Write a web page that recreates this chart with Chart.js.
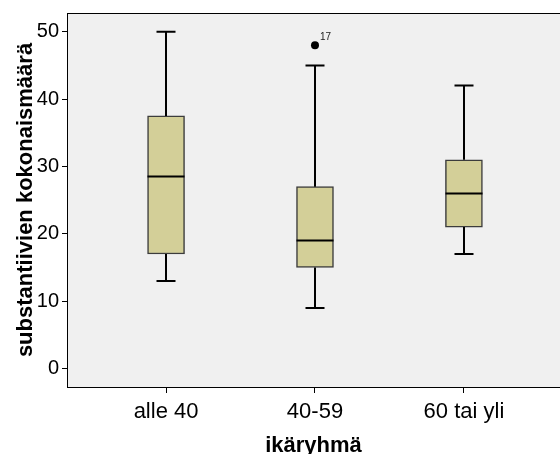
<!DOCTYPE html>
<html><head><meta charset="utf-8">
<script src="https://cdn.jsdelivr.net/npm/chart.js@4"></script>
<style>html,body{margin:0;padding:0;background:#fff}#wrap{width:560px;height:454px}</style>
</head><body><div id="wrap"><canvas id="c" width="560" height="454"></canvas></div>
<script>
const categories = ['alle 40', '40-59', '60 tai yli'];
const whiskerLow = [13, 9, 17];
const q1 = [17, 15, 21];
const median = [28.5, 19, 26];
const q3 = [37.5, 27, 31];
const whiskerHigh = [50, 45, 42];
const outlierGroup = [1];      // index into categories
const outlierValues = [48];
const outlierLabels = ['17'];
const yTicks = [0, 10, 20, 30, 40, 50];

const FONT = 'Arial, "Liberation Sans", sans-serif';

const boxPlugin = {
  id: 'boxParts',
  beforeDraw(chart) {
    const {ctx, chartArea: a} = chart;
    ctx.save();
    ctx.fillStyle = '#f0f0f0';
    ctx.fillRect(a.left, a.top, a.right - a.left, a.bottom - a.top);
    ctx.restore();
  },
  afterDatasetsDraw(chart) {
    const {ctx, chartArea: a} = chart;
    const xs = chart.scales.x, ys = chart.scales.y;
    const capW = 19, boxW = 37;
    ctx.save();
    ctx.strokeStyle = '#000';
    ctx.lineCap = 'butt';
    categories.forEach((c, i) => {
      const x = Math.round(xs.getPixelForValue(i + 1));
      const yl = ys.getPixelForValue(whiskerLow[i]);
      const y1 = ys.getPixelForValue(q1[i]);
      const y3 = ys.getPixelForValue(q3[i]);
      const yh = ys.getPixelForValue(whiskerHigh[i]);
      const ym = ys.getPixelForValue(median[i]);
      ctx.lineWidth = 2;
      ctx.beginPath();
      ctx.moveTo(x, y3); ctx.lineTo(x, yh);
      ctx.moveTo(x, y1); ctx.lineTo(x, yl);
      ctx.moveTo(x - capW / 2, yh); ctx.lineTo(x + capW / 2, yh);
      ctx.moveTo(x - capW / 2, yl); ctx.lineTo(x + capW / 2, yl);
      ctx.stroke();
      ctx.beginPath();
      ctx.moveTo(x - boxW / 2, ym); ctx.lineTo(x + boxW / 2, ym);
      ctx.stroke();
    });
    outlierValues.forEach((v, k) => {
      const x = xs.getPixelForValue(outlierGroup[k] + 1);
      const y = ys.getPixelForValue(v);
      ctx.fillStyle = '#000';
      ctx.beginPath();
      ctx.arc(x, y, 4, 0, Math.PI * 2);
      ctx.fill();
      ctx.font = '10px ' + FONT;
      ctx.fillStyle = '#222';
      ctx.textBaseline = 'alphabetic';
      ctx.fillText(outlierLabels[k], x + 5, y - 5);
    });
    // top frame line
    ctx.lineWidth = 1;
    ctx.beginPath();
    ctx.moveTo(a.left, a.top + 0.5); ctx.lineTo(a.right, a.top + 0.5);
    ctx.stroke();
    ctx.restore();
  }
};

new Chart(document.getElementById('c'), {
  type: 'bar',
  data: {
    datasets: [{
      data: categories.map((c, i) => ({x: i + 1, y: [q1[i], q3[i]]})),
      backgroundColor: '#d3cf98',
      borderColor: '#3c3c3c',
      borderWidth: 1.5,
      borderSkipped: false,
      barThickness: 37
    }]
  },
  options: {
    responsive: false,
    animation: false,
    devicePixelRatio: 1,
    layout: {padding: {top: 13, right: 0, left: 0, bottom: 0}},
    plugins: {legend: {display: false}, tooltip: {enabled: false}},
    scales: {
      x: {
        type: 'linear',
        offset: false,
        min: 0.335, max: 3.645,
        afterBuildTicks: s => { s.ticks = categories.map((c, i) => ({value: i + 1})); },
        afterFit: s => { s.height = 67; },
        grid: {drawOnChartArea: false, offset: false, tickLength: 6, color: '#000', lineWidth: 1},
        border: {display: true, color: '#000', width: 1},
        ticks: {
          autoSkip: false, maxRotation: 0, padding: 6,
          color: '#000', font: {family: FONT, size: 22},
          callback: v => categories[v - 1]
        },
        title: {display: true, text: 'ikäryhmä', color: '#000',
          font: {family: FONT, size: 22, weight: 'bold', lineHeight: 1}, padding: {top: 0, bottom: -3}}
      },
      y: {
        min: -2.74, max: 52.78,
        afterBuildTicks: s => { s.ticks = yTicks.map(v => ({value: v})); },
        afterFit: s => { s.width = 67; },
        grid: {drawOnChartArea: false, tickLength: 5, color: '#000', lineWidth: 1},
        border: {display: true, color: '#000', width: 1},
        ticks: {padding: 3, color: '#000', font: {family: FONT, size: 20, lineHeight: 1}},
        title: {display: true, text: 'substantiivien kokonaismäärä', color: '#000',
          font: {family: FONT, size: 22, weight: 'bold', lineHeight: 1}, padding: {top: 15, bottom: 0}}
      }
    }
  },
  plugins: [boxPlugin]
});
</script></body></html>
